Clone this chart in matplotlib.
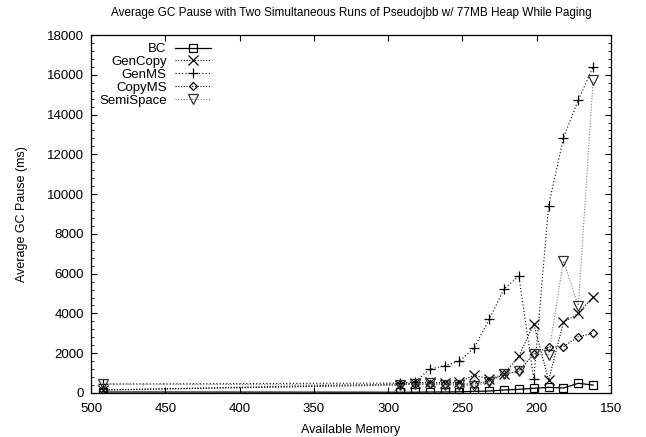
import matplotlib
matplotlib.use("Agg")
import matplotlib.pyplot as plt
from matplotlib.ticker import MultipleLocator

plt.rcParams['font.family'] = ['Liberation Sans', 'DejaVu Sans']

# available memory (MB) for each run
memory = [492, 292, 282, 272, 262, 252, 242, 232, 222, 212, 202, 192, 182, 172, 162]

# average GC pause (ms)
bc = [50, 40, 40, 50, 50, 60, 80, 100, 150, 185, 235, 285, 250, 487, 400]
gencopy = [150, 400, 500, 550, 500, 550, 900, 700, 950, 1850, 3470, 650, 3550, 4000, 4850]
genms = [450, 500, 550, 1200, 1370, 1600, 2280, 3700, 5230, 5880, 700, 9420, 12840, 14730, 16400]
copyms = [150, 450, 450, 450, 450, 450, 450, 600, 950, 1100, 1960, 2300, 2330, 2830, 3000]
semispace = [450, 400, 450, 480, 400, 400, 350, 550, 950, 1100, 1960, 1930, 6650, 4390, 15740]

fig = plt.figure(figsize=(6.46, 4.37), dpi=100)
ax = fig.add_axes([0.141, 0.1007, 0.8048, 0.8192])

ax.plot(memory, bc, color="black", lw=0.9, ls="-", marker="s", ms=6,
        mfc="none", mec="black", mew=0.9, label="BC")
ax.plot(memory, gencopy, color="black", lw=0.8, ls=(0, (1, 1.5)), marker="x", ms=7,
        mew=0.9, label="GenCopy")
ax.plot(memory, genms, color="black", lw=0.8, ls=(0, (1, 2)), marker="+", ms=7,
        mew=0.9, label="GenMS")
ax.plot(memory, copyms, color="black", lw=0.8, ls=(0, (1, 1.5)), marker="D", ms=4.5,
        mfc="none", mec="black", mew=0.9, label="CopyMS")
ax.plot(memory, semispace, color="#7a7a7a", lw=0.8, ls=(0, (1, 1.5)), marker="v", ms=6.5,
        mfc="none", mec="#333333", mew=0.9, label="SemiSpace")

ax.set_xlim(500, 150)
ax.set_ylim(0, 18000)
ax.xaxis.set_major_locator(MultipleLocator(50))
ax.yaxis.set_major_locator(MultipleLocator(2000))
ax.yaxis.set_minor_locator(MultipleLocator(400))
ax.tick_params(which="both", direction="in", top=True, right=True, labelsize=9.5)
ax.tick_params(which="major", length=4, width=0.8)
ax.tick_params(which="minor", length=2, width=0.6)
ax.tick_params(axis="x", which="major", pad=7)
ax.tick_params(axis="y", which="major", pad=5)
for s in ax.spines.values():
    s.set_linewidth(0.9)

ax.set_xlabel("Available Memory", fontsize=9, labelpad=7)
ax.set_ylabel("Average GC Pause (ms)", fontsize=9, labelpad=14)
ax.set_title("Average GC Pause with Two Simultaneous Runs of Pseudojbb w/ 77MB Heap While Paging",
             fontsize=8.5, pad=14)

ax.legend(loc="upper left", frameon=False, markerfirst=False, fontsize=9.5,
          handlelength=2.8, handletextpad=0.6, labelspacing=0.05,
          borderaxespad=0.2, bbox_to_anchor=(0.0, 1.0))
leg = ax.get_legend()
for t in leg.get_texts():
    t.set_ha("right")
leg._legend_box.align = "right"

fig.savefig("out.png", dpi=100)
